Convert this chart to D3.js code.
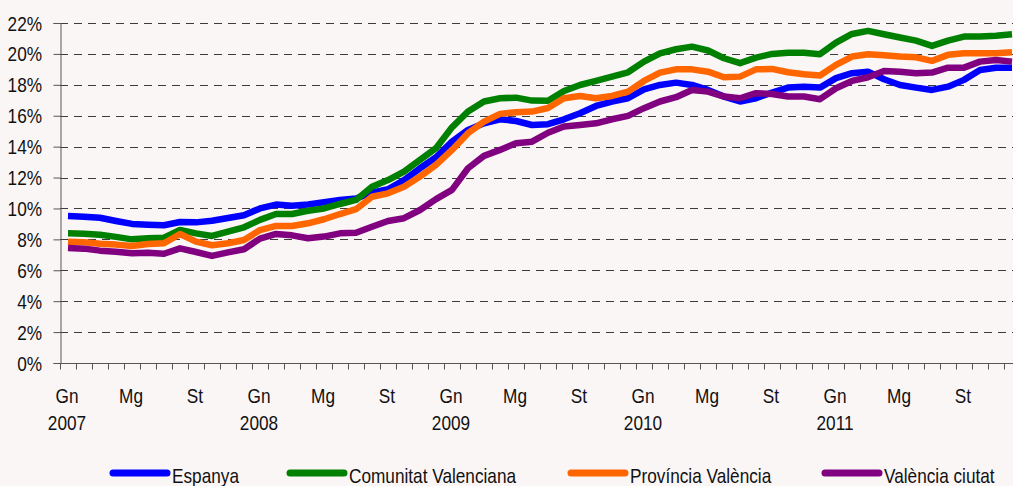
<!DOCTYPE html>
<html>
<head>
<meta charset="utf-8">
<script src="https://cdn.jsdelivr.net/npm/d3@7"></script>
<style>
    body { margin: 0; background: #fbf6f6; }
    #chart { width: 1013px; height: 486px; }
    text { font-family: "Liberation Sans", Arial, sans-serif; fill: #111; }
</style>
</head>
<body>
<div id="chart"></div>
<script>
// months (Catalan abbreviations) and years
const years = ["2007", "2008", "2009", "2010", "2011"];
const monthNames = ["Gn", "Fb", "Mç", "Ab", "Mg", "Jn", "Jl", "Ag", "St", "Oc", "Nv", "Ds"];
const labeledMonths = ["Gn", "Mg", "St"];
const yTicks = [0, 2, 4, 6, 8, 10, 12, 14, 16, 18, 20, 22];

// series, in %
const espanya = [9.51, 9.47, 9.40, 9.19, 9.00, 8.95, 8.91, 9.12, 9.10, 9.20, 9.38, 9.56,
    10.00, 10.25, 10.18, 10.25, 10.40, 10.55, 10.64, 11.02, 11.24, 11.84, 12.60, 13.31,
    14.32, 15.08, 15.51, 15.77, 15.66, 15.40, 15.45, 15.77, 16.16, 16.63, 16.92, 17.13,
    17.71, 17.99, 18.14, 17.99, 17.67, 17.24, 16.92, 17.13, 17.50, 17.82, 17.88, 17.82,
    18.43, 18.75, 18.85, 18.36, 17.99, 17.82, 17.67, 17.88, 18.32, 18.96, 19.11, 19.11];

const comunitat = [8.39, 8.37, 8.30, 8.16, 8.00, 8.07, 8.11, 8.61, 8.39, 8.22, 8.50, 8.78,
    9.26, 9.64, 9.64, 9.85, 10.00, 10.29, 10.55, 11.41, 11.84, 12.38, 13.14, 13.90,
    15.25, 16.27, 16.92, 17.13, 17.17, 16.98, 16.97, 17.60, 17.99, 18.25, 18.53, 18.81,
    19.50, 20.04, 20.30, 20.47, 20.22, 19.72, 19.40, 19.76, 20.00, 20.08, 20.08, 19.98,
    20.73, 21.29, 21.49, 21.27, 21.06, 20.86, 20.52, 20.86, 21.12, 21.12, 21.18, 21.27];

const provincia = [7.85, 7.81, 7.72, 7.66, 7.57, 7.70, 7.75, 8.35, 7.85, 7.62, 7.75, 7.96,
    8.60, 8.87, 8.87, 9.04, 9.30, 9.64, 9.95, 10.76, 10.98, 11.41, 12.06, 12.82,
    13.79, 14.87, 15.62, 16.12, 16.23, 16.27, 16.50, 17.13, 17.28, 17.13, 17.28, 17.56,
    18.25, 18.79, 19.00, 19.00, 18.85, 18.49, 18.53, 19.00, 19.03, 18.81, 18.68, 18.60,
    19.29, 19.83, 19.98, 19.91, 19.83, 19.78, 19.55, 19.94, 20.04, 20.04, 20.04, 20.10];

const ciutat = [7.44, 7.40, 7.27, 7.20, 7.10, 7.14, 7.07, 7.42, 7.18, 6.93, 7.16, 7.36,
    8.05, 8.35, 8.26, 8.07, 8.18, 8.39, 8.43, 8.82, 9.19, 9.37, 9.90, 10.60,
    11.20, 12.60, 13.40, 13.79, 14.22, 14.32, 14.90, 15.30, 15.40, 15.51, 15.77, 15.99,
    16.49, 16.92, 17.20, 17.67, 17.56, 17.24, 17.13, 17.46, 17.41, 17.24, 17.24, 17.07,
    17.78, 18.25, 18.49, 18.90, 18.85, 18.75, 18.79, 19.11, 19.11, 19.50, 19.61, 19.50];

const seriesNames = ["Espanya", "Comunitat Valenciana", "Província València", "València ciutat"];
const seriesColors = ["#0000ff", "#008000", "#ff6600", "#800080"];

class LineChart {

    constructor(parentElement) {
        this.parentElement = parentElement;

        this.categories = years.flatMap(y => monthNames.map(m => m + " " + y));
        this.series = [espanya, comunitat, provincia, ciutat].map((values, i) => ({
            name: seriesNames[i],
            color: seriesColors[i],
            values: values
        }));

        this.initVis();
    }

    initVis() {
        let vis = this;

        vis.margin = {top: 23, right: -7, bottom: 123, left: 60};
        vis.width = 1013 - vis.margin.left - vis.margin.right;
        vis.height = 486 - vis.margin.top - vis.margin.bottom;

        vis.root = d3.select("#" + vis.parentElement).append("svg")
            .attr("width", 1013)
            .attr("height", 486);

        vis.root.append("rect")
            .attr("width", 1013)
            .attr("height", 486)
            .attr("fill", "#fbf6f6");

        vis.svg = vis.root.append("g")
            .attr("transform", "translate(" + vis.margin.left + "," + vis.margin.top + ")");

        // scales
        vis.x = d3.scaleBand().domain(vis.categories).range([0, vis.width]);
        vis.y = d3.scaleLinear().domain([0, 22]).range([vis.height, 0]);

        vis.updateVis();
    }

    // narrow-looking text: regular sans squeezed horizontally
    narrow(sel, x, y) {
        return sel
            .attr("font-size", 21)
            .attr("transform", (d, i) => "translate(" + x(d, i) + "," + y(d, i) + ") scale(0.82,1)");
    }

    updateVis() {
        let vis = this;

        // dashed grid
        vis.svg.append("g")
            .attr("class", "grid")
            .selectAll("line")
            .data(yTicks.filter(d => d > 0))
            .join("line")
            .attr("x1", 0)
            .attr("x2", vis.width)
            .attr("y1", d => Math.round(vis.y(d)) + 0.5)
            .attr("y2", d => Math.round(vis.y(d)) + 0.5)
            .attr("stroke", "#3c3c3c")
            .attr("stroke-width", 1.2)
            .attr("stroke-dasharray", "8,6");

        // y axis
        let yAxis = vis.svg.append("g")
            .attr("class", "axis axis--y")
            .attr("transform", "translate(0.5,0)")
            .call(d3.axisLeft(vis.y).tickValues(yTicks).tickSize(7).tickFormat(""));
        yAxis.selectAll("line, path").attr("stroke", "#555");

        vis.narrow(vis.svg.append("g").selectAll("text")
            .data(yTicks)
            .join("text")
            .attr("text-anchor", "end")
            .text(d => d + "%"),
            () => -18, d => vis.y(d) + 7.5);

        // x axis, a tick on every month boundary
        let boundaries = vis.categories.map(c => vis.x(c)).concat([vis.width]);
        let xAxis = vis.svg.append("g")
            .attr("class", "axis axis--x")
            .attr("transform", "translate(0," + (Math.round(vis.height) + 0.5) + ")");
        xAxis.append("line")
            .attr("x1", 0).attr("x2", vis.width)
            .attr("stroke", "#555");
        xAxis.selectAll(".tick")
            .data(boundaries)
            .join("line")
            .attr("class", "tick")
            .attr("x1", d => Math.round(d) + 0.5)
            .attr("x2", d => Math.round(d) + 0.5)
            .attr("y1", 0)
            .attr("y2", 6)
            .attr("stroke", "#555");

        // month labels
        let labeled = vis.categories.filter(c => labeledMonths.includes(c.split(" ")[0]));
        vis.narrow(xAxis.selectAll(".month")
            .data(labeled)
            .join("text")
            .attr("class", "month")
            .attr("text-anchor", "middle")
            .text(d => d.split(" ")[0]),
            d => vis.x(d) + vis.x.bandwidth() / 2 - 1, () => 39);

        vis.narrow(xAxis.selectAll(".year")
            .data(labeled.filter(c => c.startsWith("Gn")))
            .join("text")
            .attr("class", "year")
            .attr("text-anchor", "middle")
            .text(d => d.split(" ")[1]),
            d => vis.x(d) + vis.x.bandwidth() / 2 - 1, () => 66);

        // lines
        vis.line = d3.line()
            .x((d, i) => vis.x(vis.categories[i]) + vis.x.bandwidth() / 2)
            .y(d => vis.y(d));

        vis.svg.append("g")
            .attr("class", "lines")
            .selectAll("path")
            .data(vis.series)
            .join("path")
            .attr("d", d => vis.line(d.values))
            .attr("fill", "none")
            .attr("stroke", d => d.color)
            .attr("stroke-width", 6.5)
            .attr("stroke-linejoin", "round");

        // legend
        let legendX = [110, 287, 568, 822];
        let legend = vis.root.append("g")
            .attr("class", "legend")
            .selectAll("g")
            .data(vis.series)
            .join("g")
            .attr("transform", (d, i) => "translate(" + legendX[i] + ",473)");

        legend.append("line")
            .attr("x1", 3).attr("x2", 57)
            .attr("stroke", d => d.color)
            .attr("stroke-width", 7)
            .attr("stroke-linecap", "round");

        vis.narrow(legend.append("text").text(d => d.name), () => 62, () => 10);
    }
}

let chart = new LineChart("chart");
</script>
</body>
</html>
